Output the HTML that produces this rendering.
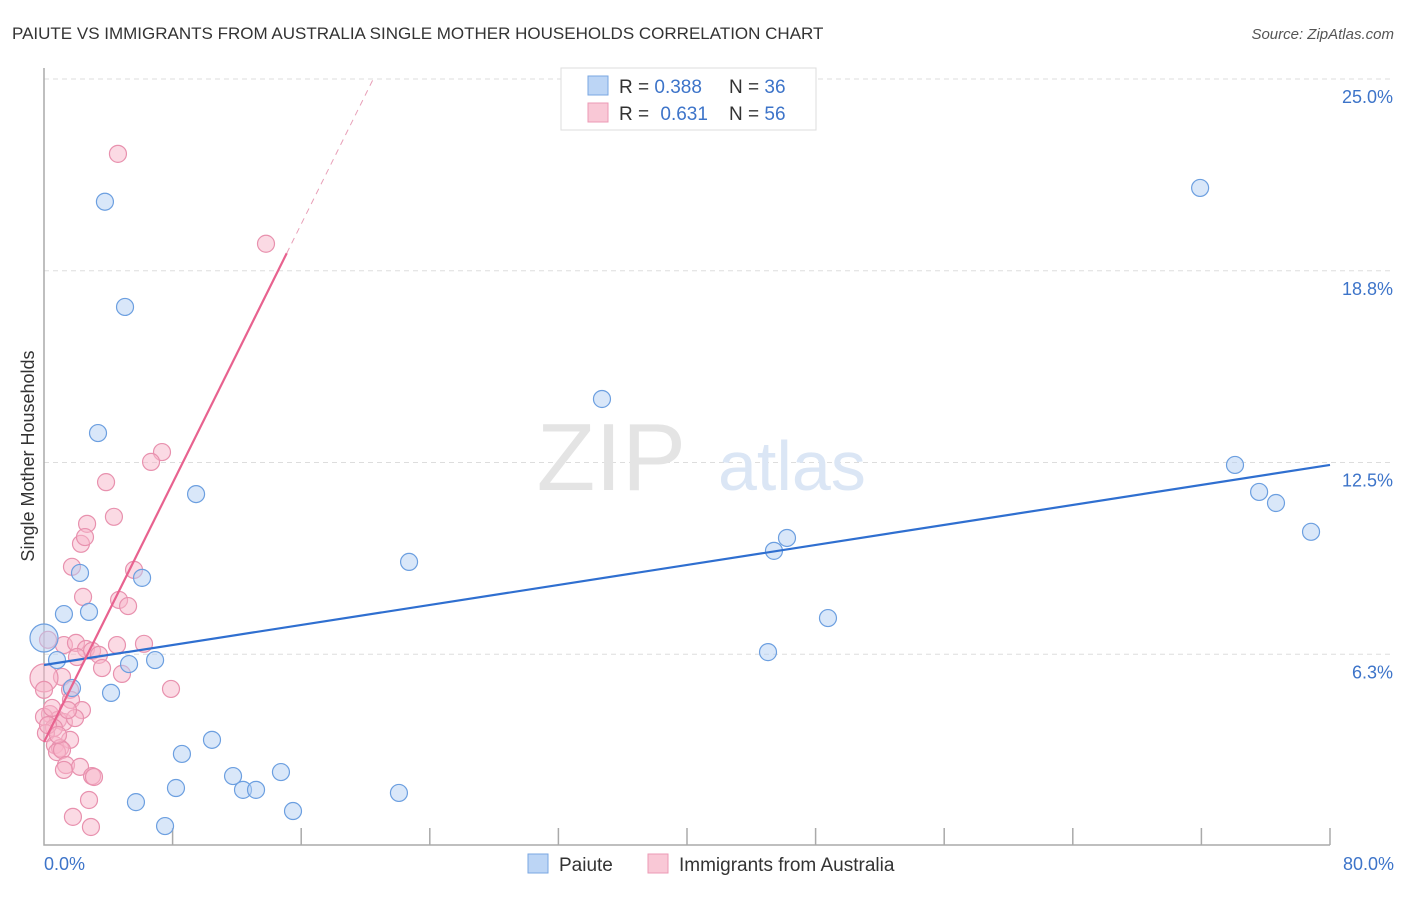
<!DOCTYPE html>
<html><head><meta charset="utf-8"><style>
body{margin:0;background:#fff;font-family:"Liberation Sans",sans-serif;}
svg text{font-family:"Liberation Sans",sans-serif;}
</style></head><body>
<svg width="1406" height="892" viewBox="0 0 1406 892">
<text x="12" y="39" font-size="17" fill="#333">PAIUTE VS IMMIGRANTS FROM AUSTRALIA SINGLE MOTHER HOUSEHOLDS CORRELATION CHART</text>
<text x="1394" y="39" font-size="15" fill="#555" text-anchor="end" font-style="italic">Source: ZipAtlas.com</text>
<g id="grid"></g>
<text x="686" y="490" font-size="96" fill="#e4e4e4" text-anchor="end" font-family="Liberation Serif">ZIP</text>
<text x="718" y="490" font-size="70" fill="#dbe6f5">atlas</text>
<g id="marks"></g>
<text transform="translate(34,456) rotate(-90)" font-size="18" fill="#333" text-anchor="middle">Single Mother Households</text>
<text x="44" y="870" font-size="18" fill="#3d74c9">0.0%</text>
<text x="1394" y="870" font-size="18" fill="#3d74c9" text-anchor="end">80.0%</text>
<g>
<rect x="561" y="68" width="255" height="62" fill="#fff" stroke="#ddd"/>
<rect x="588" y="76" width="20" height="19" fill="#bcd5f5" stroke="#7aa7e2"/>
<rect x="588" y="103" width="20" height="19" fill="#f9c8d6" stroke="#ec9ab5"/>
<text x="619" y="93" font-size="19" fill="#333">R = <tspan fill="#3d74c9">0.388</tspan></text>
<text x="729" y="93" font-size="19" fill="#333">N = <tspan fill="#3d74c9">36</tspan></text>
<text x="619" y="120" font-size="19" fill="#333">R = <tspan fill="#3d74c9" dx="6">0.631</tspan></text>
<text x="729" y="120" font-size="19" fill="#333">N = <tspan fill="#3d74c9">56</tspan></text>
</g>
<g>
<rect x="528" y="854" width="20" height="19" fill="#bcd5f5" stroke="#7aa7e2"/>
<text x="559" y="871" font-size="19" fill="#333">Paiute</text>
<rect x="648" y="854" width="20" height="19" fill="#f9c8d6" stroke="#ec9ab5"/>
<text x="679" y="871" font-size="19" fill="#333">Immigrants from Australia</text>
</g>
</svg>
<script>
const yTicks=[6.25,12.5,18.75,25];
const yTickLabels=["6.3%","12.5%","18.8%","25.0%"];
const xTicks=[0,8,16,24,32,40,48,56,64,72,80];
const blueX=[3.79,5.04,3.36,34.71,71.92,9.46,74.09,75.59,76.64,78.82,22.71,46.22,45.41,2.24,6.10,1.24,2.80,48.77,45.04,0,0.81,5.29,6.91,1.74,4.17,8.58,10.45,11.76,14.74,12.38,13.19,8.21,5.72,22.08,15.49,7.53];
const blueY=[21.0,17.57,13.46,14.57,21.45,11.47,12.42,11.54,11.18,10.24,9.26,10.04,9.62,8.90,8.74,7.56,7.63,7.43,6.32,6.78,6.06,5.93,6.06,5.15,4.99,3.00,3.46,2.28,2.41,1.83,1.83,1.89,1.43,1.73,1.14,0.65];
const pinkX=[4.60,13.81,7.34,6.66,3.86,2.68,4.35,2.30,2.55,1.74,5.60,2.43,4.67,5.23,1.24,1.99,2.61,2.99,6.22,4.54,3.42,2.05,3.61,4.85,1.12,0,7.90,1.62,1.68,2.36,0.37,0.87,0,1.24,0.62,0.12,1.62,0.68,1.00,0.81,1.12,1.37,2.24,1.24,2.99,3.11,2.80,1.80,2.92,0.25,0.50,0.25,0.87,1.93,1.49,0];
const pinkY=[22.56,19.63,12.84,12.52,11.86,10.50,10.73,9.85,10.07,9.10,9.00,8.12,8.02,7.82,6.55,6.62,6.42,6.36,6.59,6.55,6.23,6.16,5.80,5.61,5.51,5.48,5.12,5.09,4.76,4.43,4.30,4.11,4.21,4.04,3.85,3.68,3.46,3.29,3.19,3.06,3.13,2.64,2.58,2.48,2.28,2.25,1.50,0.95,0.62,6.72,4.50,3.94,3.62,4.17,4.43,5.09];
const blueBig=[19]; const pinkBig=[25];
const blueTrend=[5.90,12.42];
const pinkTrend=[3.39,1.055];
const NS="http://www.w3.org/2000/svg";
const X=v=>44+v/80*1286, Y=v=>846-v/25*767;
function mk(t,a,p){const e=document.createElementNS(NS,t);for(const k in a)e.setAttribute(k,a[k]);p.appendChild(e);return e;}
const g=document.getElementById('grid'), m=document.getElementById('marks');
yTicks.forEach((t,i)=>{
 const l=mk('line',{x1:44,x2:1394,y1:Y(t),y2:Y(t),stroke:'#ddd','stroke-dasharray':'5,4'},g);
 
 
 const tx=mk('text',{x:1393,y:Y(t)+24,'font-size':18,fill:'#3d74c9','text-anchor':'end'},g);
 tx.textContent=yTickLabels[i];
 
 
});
const ax=mk('path',{d:'M44 68 V845 H1330',fill:'none',stroke:'#aaa','stroke-width':1.5},g);


xTicks.forEach(t=>{
 if(t===0)return;
 const l=mk('line',{x1:X(t),x2:X(t),y1:828,y2:845,stroke:'#aaa','stroke-width':1.5},g);
 
 
});
function dots(xs,ys,big,fill,stroke,name){
 xs.forEach((v,i)=>{
  const c=mk('circle',{cx:X(v),cy:Y(ys[i]),r:big.includes(i)?14:8.5,fill:fill,'fill-opacity':0.5,stroke:stroke,'stroke-width':1.2},m);
  
  
 });
}
dots(pinkX,pinkY,pinkBig,'#f7b6ca','#e891ae','pink-point');
dots(blueX,blueY,blueBig,'#b3cff3','#6c9fe0','blue-point');
const bl=mk('line',{x1:X(0),y1:Y(blueTrend[0]),x2:X(80),y2:Y(blueTrend[1]),stroke:'#2f6fd0','stroke-width':2.2},m);


const px1=15.1, px2=(25-pinkTrend[0])/pinkTrend[1];
const pl=mk('line',{x1:X(0),y1:Y(pinkTrend[0]),x2:X(px1),y2:Y(pinkTrend[0]+pinkTrend[1]*px1),stroke:'#e8628f','stroke-width':2.2},m);


const pd=mk('line',{x1:X(px1),y1:Y(pinkTrend[0]+pinkTrend[1]*px1),x2:X(px2),y2:Y(25),stroke:'#e8a0b8','stroke-width':1,'stroke-dasharray':'6,5'},m);


</script>
</body></html>
